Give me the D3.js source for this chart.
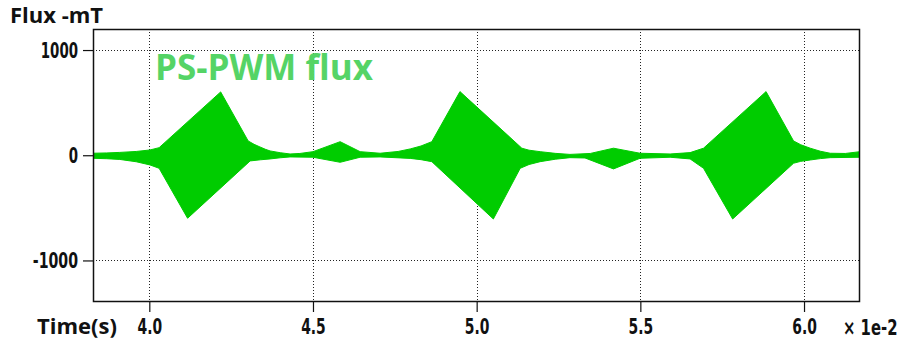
<!DOCTYPE html>
<html>
<head>
<meta charset="utf-8">
<script src="https://cdn.jsdelivr.net/npm/d3@7"></script>
<style>
  html, body { margin: 0; padding: 0; background: #fff; }
  svg { display: block; }
  .tk { font-family: 'DejaVu Sans Condensed', 'DejaVu Sans', sans-serif; font-stretch: condensed; font-weight: bold; }
</style>
</head>
<body>
<svg id="chart" width="898" height="348"></svg>
<script>
// Time in units of 1e-2 s, flux in mT — envelope of the PS-PWM flux waveform
const upperT = [3.828, 3.870, 3.910, 3.960, 4.002, 4.030, 4.218, 4.302, 4.320, 4.338, 4.355, 4.369, 4.400, 4.430, 4.460, 4.500, 4.583, 4.644, 4.705, 4.760, 4.797, 4.830, 4.863, 4.949, 5.138, 5.160, 5.194, 5.240, 5.285, 5.347, 5.418, 5.499, 5.591, 5.652, 5.693, 5.884, 5.968, 5.990, 6.019, 6.050, 6.080, 6.126, 6.171];
const upperV = [19, 22, 27, 36, 50, 72, 602, 136, 104, 79, 56, 41, 24, 12, 17, 34, 129, 34, 19, 36, 60, 88, 129, 605, 67, 48, 34, 18, 8, 17, 67, 19, 12, 25, 67, 605, 136, 100, 67, 38, 19, 17, 34];
const lowerT = [3.828, 3.870, 3.910, 3.960, 4.002, 4.030, 4.117, 4.308, 4.340, 4.369, 4.400, 4.430, 4.500, 4.583, 4.644, 4.705, 4.797, 4.830, 4.863, 5.051, 5.133, 5.160, 5.194, 5.240, 5.285, 5.331, 5.418, 5.499, 5.591, 5.652, 5.693, 5.782, 5.968, 5.990, 6.019, 6.050, 6.080, 6.171];
const lowerV = [-29, -33, -40, -62, -92, -124, -599, -54, -43, -35, -24, -16, -19, -67, -19, -16, -30, -42, -61, -606, -124, -88, -61, -38, -23, -26, -130, -29, -19, -35, -124, -606, -76, -58, -45, -32, -23, -19];

const xTicks = [4.0, 4.5, 5.0, 5.5, 6.0];
const xTickLabels = ["4.0", "4.5", "5.0", "5.5", "6.0"];
const yTicks = [1000, 0, -1000];
const yTickLabels = ["1000", "0", "-1000"];

const svg = d3.select("#chart");
const L = 93, T = 29, R = 860, B = 302;

const x = d3.scaleLinear().domain([3.828, 6.171]).range([L, R]);
const y = d3.scaleLinear().domain([-1395, 1200]).range([B, T]);

// approximate rendered width of the narrow tick font
function narrowWidth(s) {
  let w = 0;
  for (const c of s) w += (c === "." ? 6 : c === "-" ? 8 : c === " " ? 5 : c === "×" ? 9 : 9.3);
  return w;
}

// clip
svg.append("defs").append("clipPath").attr("id", "clip")
  .append("rect").attr("x", L).attr("y", T).attr("width", R - L).attr("height", B - T);

// grid
const grid = svg.append("g");
grid.selectAll("line.gx").data(xTicks).enter().append("line")
  .attr("x1", d => Math.round(x(d)) + 0.5).attr("x2", d => Math.round(x(d)) + 0.5)
  .attr("y1", T).attr("y2", B)
  .attr("stroke", "#222").attr("stroke-width", 1).attr("stroke-dasharray", "1,2");
grid.selectAll("line.gy").data(yTicks).enter().append("line")
  .attr("y1", d => Math.round(y(d)) + 0.5).attr("y2", d => Math.round(y(d)) + 0.5)
  .attr("x1", L).attr("x2", R)
  .attr("stroke", "#222").attr("stroke-width", 1).attr("stroke-dasharray", "1,2");

// waveform envelope polygon
const pts = upperT.map((t, i) => [t, upperV[i]])
  .concat(lowerT.map((t, i) => [t, lowerV[i]]).reverse());
const line = d3.line().x(d => x(d[0])).y(d => y(d[1])).curve(d3.curveLinear);
svg.append("path")
  .attr("clip-path", "url(#clip)")
  .attr("d", line(pts) + "Z")
  .attr("fill", "#00cc00")
  .attr("stroke", "#00cc00").attr("stroke-width", 1);

// frame
svg.append("rect").attr("x", L + 0.5).attr("y", T + 0.5)
  .attr("width", R - L - 1).attr("height", B - T - 1)
  .attr("fill", "none").attr("stroke", "#111").attr("stroke-width", 1.5);

// y axis
const yAxis = d3.axisLeft(y).tickValues(yTicks)
  .tickFormat((d, i) => yTickLabels[i]).tickSize(10).tickPadding(5);
const gy = svg.append("g").attr("transform", `translate(${L},0)`).call(yAxis);
gy.select(".domain").remove();
gy.selectAll(".tick line").attr("stroke", "#111").attr("stroke-width", 1.2);
gy.selectAll(".tick text").attr("class", "tk").attr("font-family", null)
  .attr("font-size", 22).attr("fill", "#111")
  .attr("textLength", (d, i) => narrowWidth(yTickLabels[i]))
  .attr("lengthAdjust", "spacingAndGlyphs");

// x axis
const xAxis = d3.axisBottom(x).tickValues(xTicks)
  .tickFormat((d, i) => xTickLabels[i]).tickSize(10).tickPadding(6);
const gx = svg.append("g").attr("transform", `translate(0,${B})`).call(xAxis);
gx.select(".domain").remove();
gx.selectAll(".tick line").attr("stroke", "#111").attr("stroke-width", 1.2);
gx.selectAll(".tick text").attr("class", "tk").attr("font-family", null)
  .attr("font-size", 22).attr("fill", "#111")
  .attr("textLength", (d, i) => narrowWidth(xTickLabels[i]))
  .attr("lengthAdjust", "spacingAndGlyphs");

// texts
svg.append("text").attr("x", 10).attr("y", 23)
  .attr("font-family", "'Open Sans', sans-serif").attr("font-weight", "bold")
  .attr("font-size", 22).attr("fill", "#111").text("Flux -mT");
svg.append("text").attr("x", 37).attr("y", 334)
  .attr("font-family", "'Open Sans', sans-serif").attr("font-weight", "bold")
  .attr("font-size", 22).attr("fill", "#111").text("Time(s)");
svg.append("text").attr("transform", "translate(843,335) scale(0.75,1)")
  .attr("class", "tk").attr("font-size", 22).attr("fill", "#111").text("× 1e-2");
svg.append("text").attr("x", 155).attr("y", 80)
  .attr("font-family", "'Open Sans', sans-serif").attr("font-weight", "bold")
  .attr("font-size", 35).attr("fill", "#55d466").text("PS-PWM flux");
</script>
</body>
</html>
